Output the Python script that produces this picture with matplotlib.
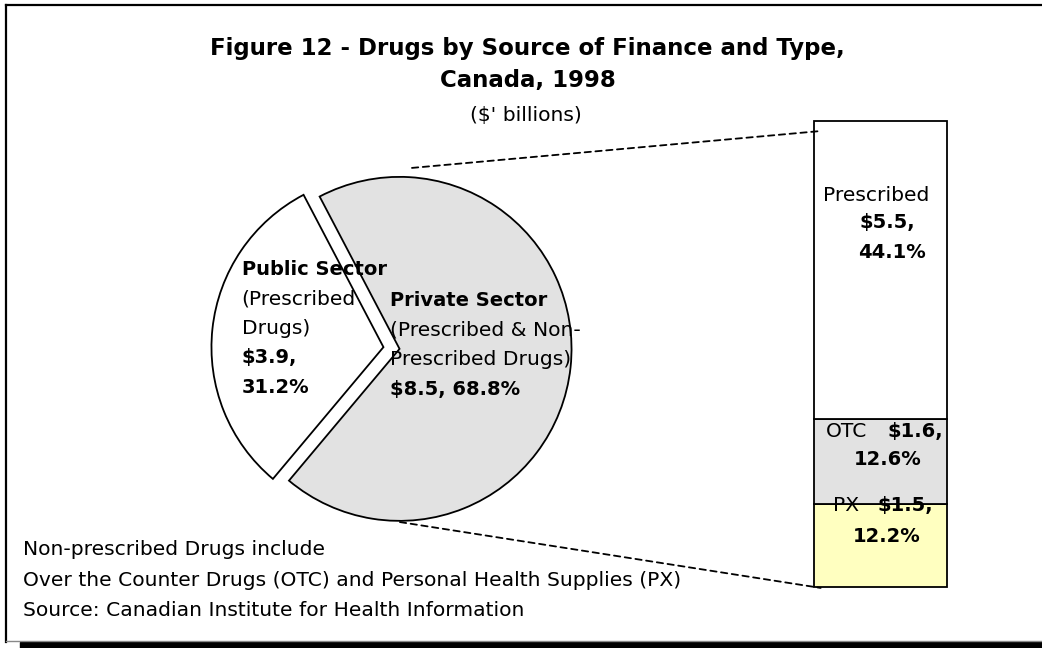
import matplotlib
matplotlib.use("Agg")
import matplotlib.pyplot as plt
from matplotlib.patches import ConnectionPatch, Rectangle
from matplotlib.lines import Line2D

# ---------------- data ----------------
pie_labels = ["Private Sector", "Public Sector"]
pie_values = [68.8, 31.2]            # percent of total
pie_dollars = [8.5, 3.9]             # $ billions

bar_labels = ["PX", "OTC", "Prescribed"]   # bottom -> top
bar_values = [12.2, 12.6, 44.1]            # percent of total
bar_dollars = [1.5, 1.6, 5.5]

title_lines = ["Figure 12 - Drugs by Source of Finance and Type,", "Canada, 1998"]
subtitle = "($' billions)"
notes = ["Non-prescribed Drugs include",
         "Over the Counter Drugs (OTC) and Personal Health Supplies (PX)",
         "Source: Canadian Institute for Health Information"]

GRAY = "#e2e2e2"
YELLOW = "#ffffc0"
W, H = 1042, 648

fig = plt.figure(figsize=(W / 100, H / 100), dpi=100)
fig.patch.set_facecolor("white")

# ---------------- pie ----------------
cx, cy, r = 391.5, 348, 172
half = 1.25 * r
pie_ax = fig.add_axes([(cx - half) / W, (H - cy - half) / H, 2 * half / W, 2 * half / H])
pie_ax.pie(pie_values, colors=[GRAY, "white"], startangle=230, explode=[0.047, 0.047],
           wedgeprops=dict(edgecolor="black", linewidth=1.3))
pie_ax.set_xlim(-1.25, 1.25)
pie_ax.set_ylim(-1.25, 1.25)
pie_ax.axis("off")

# ---------------- stacked bar ----------------
bl, br, bt, bb = 814, 947, 121, 587
bar_ax = fig.add_axes([bl / W, (H - bb) / H, (br - bl) / W, (bb - bt) / H])
bar_colors = [YELLOW, GRAY, "white"]
bottom = 0.0
for v, c in zip(bar_values, bar_colors):
    bar_ax.bar(0, v, bottom=bottom, width=1.0, color=c, edgecolor="black",
               linewidth=1.3, clip_on=False)
    bottom += v
total = bottom
bar_ax.set_xlim(-0.5, 0.5)
bar_ax.set_ylim(0, total)
bar_ax.axis("off")

# connector lines
for (pa, pb) in [((0.119, 1.047), (-0.45, total * 0.9785)),
                 ((0.049, -1.012), (-0.45, -total * 0.002))]:
    con = ConnectionPatch(xyA=pa, coordsA=pie_ax.transData, xyB=pb, coordsB=bar_ax.transData,
                          color="black", linewidth=1.3, linestyle=(0, (3.5, 2.5)))
    fig.add_artist(con)

# ---------------- overlay (frame + text) in pixel coords ----------------
ov = fig.add_axes([0, 0, 1, 1], zorder=10)
ov.set_xlim(0, W)
ov.set_ylim(H, 0)
ov.patch.set_alpha(0)
ov.axis("off")

ov.add_line(Line2D([6, W], [5, 5], color="black", linewidth=1.6))
ov.add_line(Line2D([6, 6], [5, 642], color="black", linewidth=1.6))
ov.add_line(Line2D([6, W], [640.5, 640.5], color="#888888", linewidth=1.0))
ov.add_patch(Rectangle((20, 641.5), W - 20, 7, color="black"))

FS_T, FS_R, FS_B = 16.5, 14.6, 14.0

ov.text(527.5, 55, title_lines[0], ha="center", va="baseline", fontsize=FS_T, fontweight="bold")
ov.text(527.5, 87, title_lines[1], ha="center", va="baseline", fontsize=FS_T, fontweight="bold")
ov.text(526, 121, subtitle, ha="center", va="baseline", fontsize=FS_R)

# pie labels
pub = [(pie_labels[1], "bold"), ("(Prescribed", "normal"), ("Drugs)", "normal"),
       (f"${pie_dollars[1]},", "bold"), (f"{pie_values[1]}%", "bold")]
for i, (t, w) in enumerate(pub):
    ov.text(241.7, 275 + 29.5 * i, t, ha="left", va="baseline",
            fontsize=FS_B if w == "bold" else FS_R, fontweight=w)

priv = [(pie_labels[0], "bold"), ("(Prescribed & Non-", "normal"), ("Prescribed Drugs)", "normal"),
        (f"${pie_dollars[0]}, {pie_values[0]}%", "bold")]
for i, (t, w) in enumerate(priv):
    ov.text(389.5, 306 + 29.7 * i, t, ha="left", va="baseline",
            fontsize=FS_B if w == "bold" else FS_R, fontweight=w)

# bar labels
ov.text(823.3, 200.7, bar_labels[2], ha="left", va="baseline", fontsize=FS_R)
ov.text(859.3, 228, f"${bar_dollars[2]},", ha="left", va="baseline", fontsize=FS_B, fontweight="bold")
ov.text(858.3, 258, f"{bar_values[2]}%", ha="left", va="baseline", fontsize=FS_B, fontweight="bold")

ov.text(825.7, 437, bar_labels[1], ha="left", va="baseline", fontsize=FS_R)
ov.text(887.3, 437, f"${bar_dollars[1]},", ha="left", va="baseline", fontsize=FS_B, fontweight="bold")
ov.text(854, 465, f"{bar_values[1]}%", ha="left", va="baseline", fontsize=FS_B, fontweight="bold")

ov.text(832.7, 511, bar_labels[0], ha="left", va="baseline", fontsize=FS_R)
ov.text(877.3, 511, f"${bar_dollars[0]},", ha="left", va="baseline", fontsize=FS_B, fontweight="bold")
ov.text(852.7, 542, f"{bar_values[0]}%", ha="left", va="baseline", fontsize=FS_B, fontweight="bold")

# footnotes
for i, t in enumerate(notes):
    ov.text(23.3, 555 + 30.5 * i, t, ha="left", va="baseline", fontsize=FS_R)

fig.savefig("out.png", dpi=100)
